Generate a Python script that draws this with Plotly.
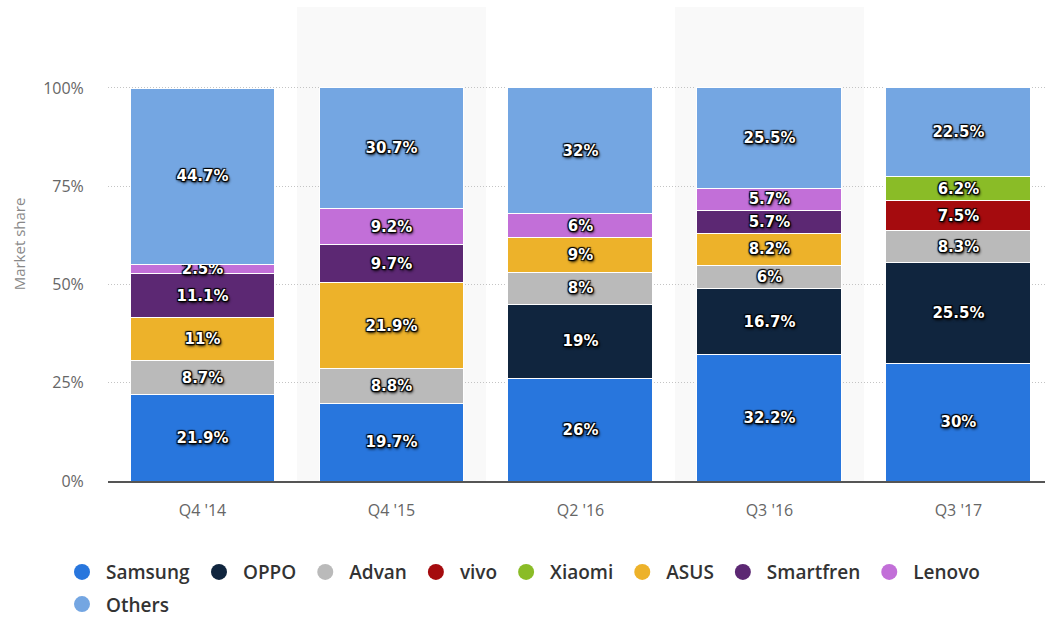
import plotly.graph_objects as go

quarters = ["Q4 '14", "Q4 '15", "Q2 '16", "Q3 '16", "Q3 '17"]
brands = ["Samsung", "OPPO", "Advan", "vivo", "Xiaomi", "ASUS", "Smartfren", "Lenovo", "Others"]
samsung = [21.9, 19.7, 26, 32.2, 30]
oppo = [None, None, 19, 16.7, 25.5]
advan = [8.7, 8.8, 8, 6, 8.3]
vivo = [None, None, None, None, 7.5]
xiaomi = [None, None, None, None, 6.2]
asus = [11, 21.9, 9, 8.2, None]
smartfren = [11.1, 9.7, None, 5.7, None]
lenovo = [2.5, 9.2, 6, 5.7, None]
others = [44.7, 30.7, 32, 25.5, 22.5]
series = [samsung, oppo, advan, vivo, xiaomi, asus, smartfren, lenovo, others]
colors = ["#2876DD", "#10253E", "#BABABA", "#A50B0E", "#8ABC27", "#EDB22A", "#5C2873", "#C26FD8", "#74A6E2"]
y_ticks = [0, 25, 50, 75, 100]
y_tick_labels = ["0%", "25%", "50%", "75%", "100%"]

shadow = ("1px 1px 1px #000, -1px -1px 1px #000, 1px -1px 1px #000, "
          "-1px 1px 1px #000, 1px 2px 3px #000")

fig = go.Figure()
for name, vals, col in zip(brands, series, colors):
    fig.add_trace(go.Bar(
        x=quarters, y=vals, name=name, marker=dict(color=col, line=dict(color="white", width=1)),
        text=[f"{v:g}%" if v is not None else "" for v in vals],
        textposition="inside", insidetextanchor="middle", constraintext="none",
        textfont=dict(family="DejaVu Sans", size=15, color="white", weight="bold", shadow=shadow),
        showlegend=False, hoverinfo="skip", width=0.767,
    ))
for i, (name, col) in enumerate(zip(brands, colors)):
    fig.add_trace(go.Scatter(
        x=[None], y=[None], mode="markers", name=name,
        marker=dict(symbol="circle", size=17, color=col), showlegend=True,
        legend="legend2" if name == "Others" else "legend",
    ))

for i in [1, 3]:
    fig.add_shape(type="rect", xref="x", yref="paper", x0=i - 0.5, x1=i + 0.5, y0=0, y1=1,
                  fillcolor="#F9F9F9", line=dict(width=0), layer="below")

legend_style = dict(orientation="h", traceorder="normal", xref="container", yref="container",
                    x=0.0555, xanchor="left", yanchor="top", itemwidth=38,
                    font=dict(size=19, color="#333", weight=600), tracegroupgap=0)

fig.update_layout(
    barmode="stack", bargap=0.233,
    width=1045, height=618,
    margin=dict(l=108, r=0, t=7, b=137),
    plot_bgcolor="white", paper_bgcolor="white",
    font=dict(family="Open Sans", color="#666"),
    xaxis=dict(range=[-0.5, 4.458], showgrid=False, showline=True, linecolor="#555", linewidth=1.5,
               ticks="outside", ticklen=14, tickcolor="rgba(0,0,0,0)", tickfont=dict(size=16, color="#666")),
    yaxis=dict(range=[0, 120.6], tickvals=y_ticks, ticktext=y_tick_labels, showgrid=True,
               gridcolor="#C4C4C4", griddash="1px,2px", gridwidth=1, zeroline=False,
               ticks="outside", ticklen=20, tickcolor="rgba(0,0,0,0)", tickfont=dict(size=16, color="#666")),
    legend=dict(y=0.105, **legend_style),
    legend2=dict(y=0.053, **legend_style),
)
fig.update_yaxes(title=dict(text="Market share", font=dict(size=15, color="#888"), standoff=13))

fig.write_html("out.html", post_script="document.body.style.margin='0px';",
               config={"displayModeBar": False})
